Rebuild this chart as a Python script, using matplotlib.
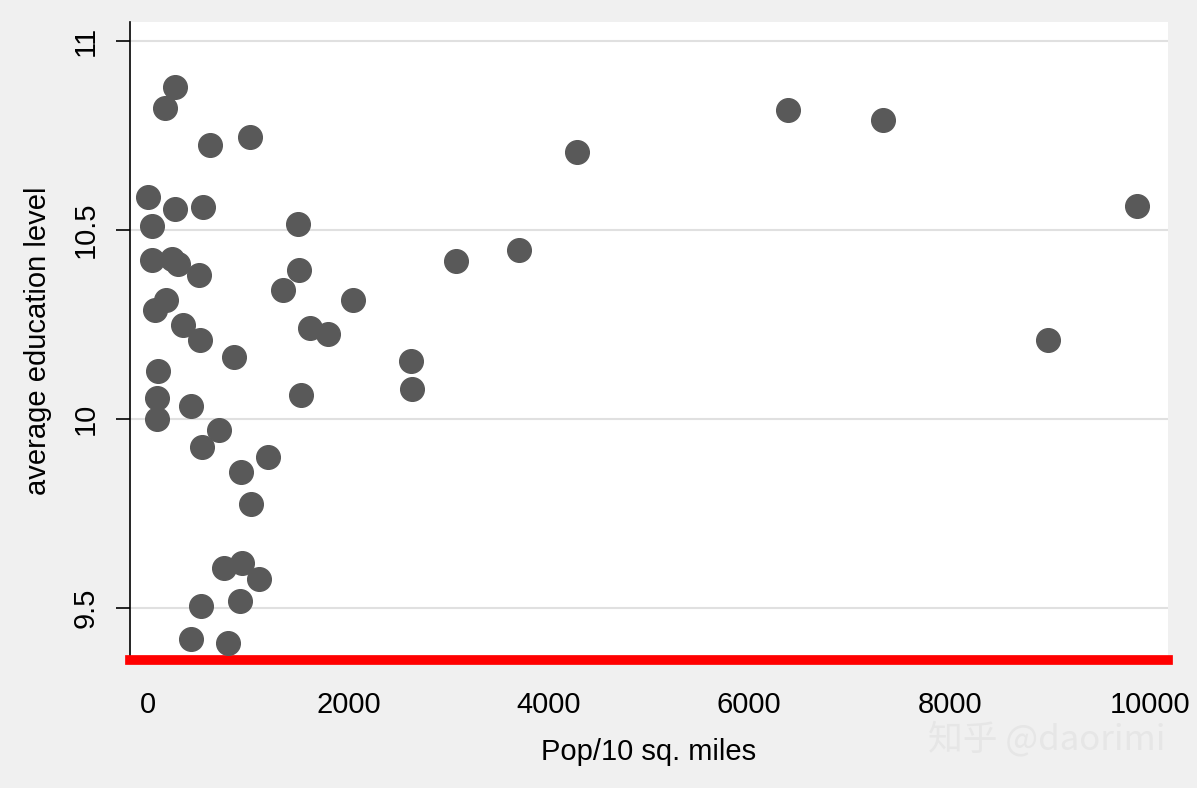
import matplotlib
matplotlib.use("Agg")
import matplotlib.pyplot as plt

popden = [0,40,40,170,270,620,1018,270,550,70,180,240,300,510,350,520,100,90,90,430,858,709,539,928,1028,1198,
          1347,1497,1507,1617,1796,2046,1527,2625,2635,3074,3703,4281,6387,7335,8982,9870,758,938,1108,529,918,429,798]
edu = [10.587,10.511,10.42,10.823,10.878,10.725,10.746,10.556,10.561,10.288,10.315,10.423,10.41,10.381,10.249,10.209,
       10.127,10.056,10.0,10.034,10.164,9.971,9.926,9.860,9.775,9.9,10.341,10.516,10.394,10.241,10.225,10.315,10.063,
       10.153,10.079,10.418,10.447,10.706,10.817,10.791,10.209,10.563,9.606,9.619,9.577,9.505,9.519,9.418,9.407]
xticks = [0,2000,4000,6000,8000,10000]
yticks = [9.5,10,10.5,11]
ylabels = ["9.5","10","10.5","11"]

plt.rcParams['font.family'] = ['Liberation Sans', 'Noto Sans CJK SC', 'DejaVu Sans']
fig = plt.figure(figsize=(11.97,7.88), dpi=100, facecolor='#f0f0f0')
ax = fig.add_axes([130/1197, 1-660/788, 1038/1197, 638/788])
ax.set_facecolor('white')
ax.scatter(popden, edu, s=290, color='#595959', zorder=3, clip_on=False)
ax.set_xlim(-180, 10180)
ax.set_ylim(9.362, 11.05)
ax.set_xticks(xticks)
ax.set_xticklabels([str(t) for t in xticks], fontsize=21)
ax.set_yticks(yticks)
ax.set_yticklabels(ylabels, fontsize=21, rotation=90, va='center')
ax.grid(axis='y', color='#e0e0e0', lw=1.5, zorder=0)
for s in ['top','right']:
    ax.spines[s].set_visible(False)
ax.spines['bottom'].set_color('red')
ax.spines['bottom'].set_linewidth(7)
ax.spines['left'].set_linewidth(1.2)
ax.tick_params(axis='x', length=0, pad=22)
ax.tick_params(axis='y', length=10, width=1.2, pad=12)
ax.set_xlabel("Pop/10 sq. miles", fontsize=21, labelpad=14)
ax.set_ylabel("average education level", fontsize=21, labelpad=14)
fig.text(1165/1197, 1-740/788, "知乎 @daorimi", fontsize=25, color='#e6e6e6', ha='right', va='center',
         family=['Noto Sans CJK SC','DejaVu Sans'])
fig.savefig("out.png", dpi=100, facecolor=fig.get_facecolor())
